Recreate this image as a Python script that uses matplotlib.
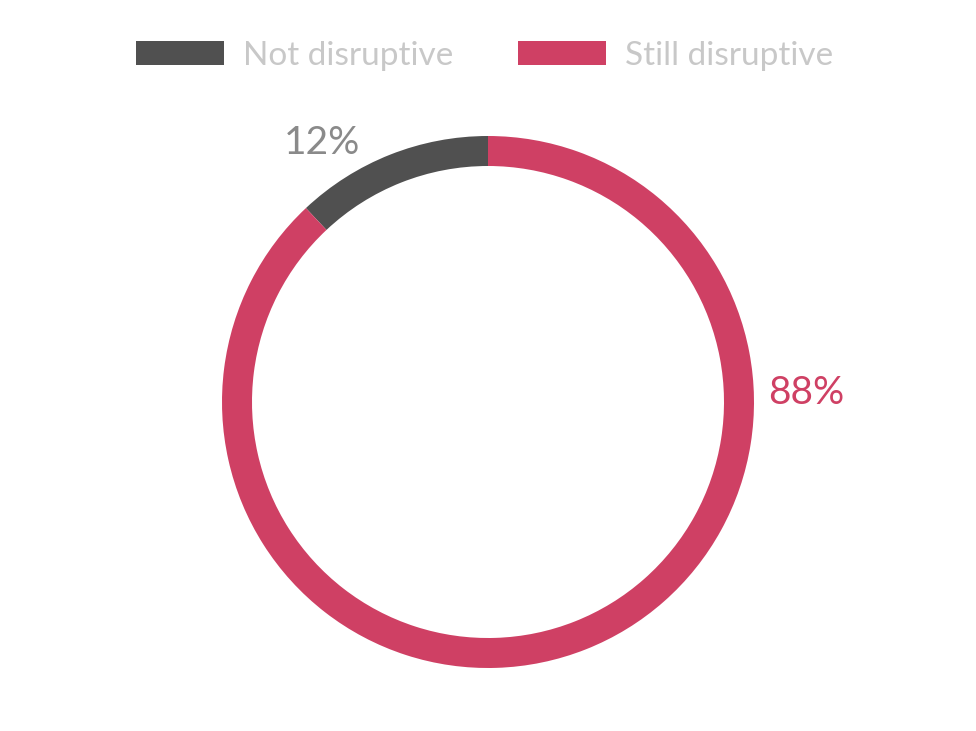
import matplotlib
matplotlib.use("Agg")
import matplotlib.pyplot as plt

categories = ["Not disruptive", "Still disruptive"]
values = [12, 88]
colors = ["#505050", "#CF4064"]
label_colors = ["#8a8a8a", "#CF4064"]

plt.rcParams['font.family'] = ['Lato', 'DejaVu Sans']

W, H = 976, 731
fig = plt.figure(figsize=(W / 100, H / 100), dpi=100)
ax = fig.add_axes([0, 0, 1, 1])

cx, cy, R = 488, H - 402, 266
wedges, _ = ax.pie(values, colors=colors, startangle=90, counterclock=True,
                   center=(cx, cy), radius=R,
                   wedgeprops=dict(width=30, edgecolor='none'),
                   frame=True)
ax.set_xlim(0, W)
ax.set_ylim(0, H)
ax.set_aspect('equal')
ax.axis('off')

ax.text(322, H - 143, f"{values[0]}%", color=label_colors[0], fontsize=28,
        ha='center', va='center')
ax.text(806, H - 393, f"{values[1]}%", color=label_colors[1], fontsize=28,
        ha='center', va='center')

leg = ax.legend(wedges, categories, loc='center', bbox_to_anchor=(484.5 / W, 1 - 56 / H),
                ncol=2, frameon=False, fontsize=24, handlelength=2.64, handleheight=0.72,
                handletextpad=0.57, columnspacing=1.92, borderpad=0)
for t in leg.get_texts():
    t.set_color('#c8c8c8')

fig.savefig("out.png", dpi=100)
